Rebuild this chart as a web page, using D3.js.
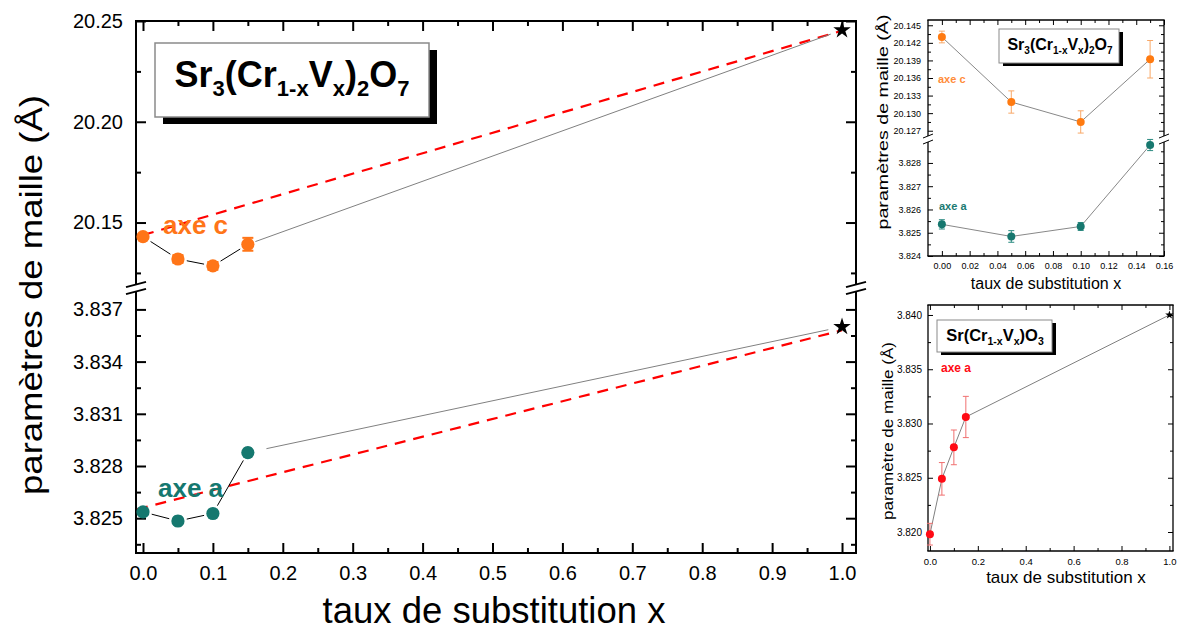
<!DOCTYPE html>
<html><head><meta charset="utf-8">
<script src="https://cdn.jsdelivr.net/npm/d3@7"></script>
<style>body{margin:0;background:#fff}svg{display:block;font-family:"Liberation Sans",Arial,sans-serif}</style>
</head><body><svg id="c" width="1180" height="632"></svg>
<script>
// ---------------- data ----------------
const xSub = [0, 0.05, 0.10, 0.15];
const axeC = [20.1430, 20.1319, 20.1285, 20.1392];
const axeCErr = [0.0010, 0.0019, 0.0019, 0.0032];
const axeA = [3.82536, 3.82484, 3.82527, 3.82877];
const axeAErr = [0.00020, 0.00025, 0.00017, 0.00024];
const starX = 1.0;
const starC = 20.2455;
const starA = 3.8360;
const vegardX = [0, 1];
const vegardC = [20.1438, 20.2452];
const vegardA = [3.8256, 3.8358];
const srOX = [0, 0.05, 0.10, 0.15];
const srOA = [3.8198, 3.8249, 3.8278, 3.8306];
const srOErr = [0.0010, 0.0015, 0.0016, 0.0019];
const srOStar = 3.8400;

const mainXMajor = [0,0.1,0.2,0.3,0.4,0.5,0.6,0.7,0.8,0.9,1.0];
const mainXMinor = [0.05,0.15,0.25,0.35,0.45,0.55,0.65,0.75,0.85,0.95];
const mainCMajor = [20.15, 20.20, 20.25];
const mainCMinor = [20.125, 20.175, 20.225];
const mainAMajor = [3.825, 3.828, 3.831, 3.834, 3.837];
const mainAMinor = [3.8235, 3.8265, 3.8295, 3.8325, 3.8355];
const inXMajor = [0,0.02,0.04,0.06,0.08,0.10,0.12,0.14,0.16];
const inXMinor = [0.01,0.03,0.05,0.07,0.09,0.11,0.13,0.15];
const inCMajor = [20.127,20.130,20.133,20.136,20.139,20.142,20.145];
const inCMinor = [20.1285,20.1315,20.1345,20.1375,20.1405,20.1435];
const inAMajor = [3.824,3.825,3.826,3.827,3.828];
const inAMinor = [3.8245,3.8255,3.8265,3.8275,3.8285];
const inBXMajor = [0,0.2,0.4,0.6,0.8,1.0];
const inBXMinor = [0.1,0.3,0.5,0.7,0.9];
const inBYMajor = [3.820,3.825,3.830,3.835,3.840];
const inBYMinor = [3.8225,3.8275,3.8325,3.8375];

// ---------------- helpers ----------------
const svg = d3.select("#c");
const ORANGE = "#ff7518", TEAL = "#15786f", RED = "#ff0000";

function line(g, x1, y1, x2, y2, stroke, sw, dash) {
  const l = g.append("line").attr("x1", x1).attr("y1", y1).attr("x2", x2).attr("y2", y2)
    .attr("stroke", stroke).attr("stroke-width", sw);
  if (dash) l.attr("stroke-dasharray", dash);
  return l;
}
function frame(g, L, R, T, B, sw, brk) {
  line(g, L, T, R, T, "#000", sw).attr("stroke-linecap", "square");
  line(g, L, B, R, B, "#000", sw).attr("stroke-linecap", "square");
  [L, R].forEach(X => {
    if (brk) {
      line(g, X, T, X, brk.a, "#000", sw);
      line(g, X, brk.b, X, B, "#000", sw);
      [brk.a, brk.b].forEach(yy => line(g, X - brk.w, yy + brk.h, X + brk.w, yy - brk.h, "#000", brk.sw));
    } else line(g, X, T, X, B, "#000", sw);
  });
}
function axis(g, gen, scale, vals, size, fmt, pad, fs, sw, tx, ty) {
  const a = gen(scale).tickValues(vals).tickSizeInner(-size).tickSizeOuter(0).tickPadding(pad)
    .tickFormat(fmt ? d3.format(fmt) : () => "");
  const ag = g.append("g").attr("transform", `translate(${tx},${ty})`).call(a);
  ag.select(".domain").remove();
  ag.attr("font-family", null).attr("font-size", fs);
  ag.selectAll("line").attr("stroke", "#000").attr("stroke-width", sw);
  ag.selectAll("text").attr("fill", "#000");
  return ag;
}
function gapLine(g, p1, p2, g1, g2, stroke, sw) {
  const dx = p2[0] - p1[0], dy = p2[1] - p1[1], d = Math.hypot(dx, dy);
  const ux = dx / d, uy = dy / d;
  line(g, p1[0] + ux * g1, p1[1] + uy * g1, p2[0] - ux * g2, p2[1] - uy * g2, stroke, sw);
}
function errBar(g, x, y0, y1, cw, stroke, sw) {
  line(g, x, y0, x, y1, stroke, sw);
  line(g, x - cw, y0, x + cw, y0, stroke, sw);
  line(g, x - cw, y1, x + cw, y1, stroke, sw);
}
function formula(g, cx, by, fs, sfs, dy, parts) {
  const t = g.append("text").attr("x", cx).attr("y", by).attr("text-anchor", "middle")
    .attr("font-weight", "bold").attr("font-size", fs).attr("fill", "#000");
  let low = false;
  parts.forEach(([s, sub]) => {
    const ts = t.append("tspan").text(s);
    if (sub) { ts.attr("font-size", sfs); if (!low) { ts.attr("dy", dy); low = true; } }
    else if (low) { ts.attr("dy", -dy); low = false; }
  });
}
function titleBox(g, x, y, w, h, off, sw) {
  g.append("rect").attr("x", x + off[0]).attr("y", y + off[1]).attr("width", w).attr("height", h).attr("fill", "#000");
  g.append("rect").attr("x", x).attr("y", y).attr("width", w).attr("height", h)
    .attr("fill", "#fff").attr("stroke", "#8a8a8a").attr("stroke-width", sw);
}
function rotTitle(g, x, cy, fs, len, txt) {
  g.append("text").attr("transform", `translate(${x},${cy}) rotate(-90)`).attr("text-anchor", "middle")
    .attr("font-size", fs).attr("fill", "#000").attr("textLength", len).attr("lengthAdjust", "spacingAndGlyphs").text(txt);
}
const star = (size) => d3.symbol(d3.symbolStar, size)();

// ---------------- main chart ----------------
{
  const g = svg.append("g");
  const L = 136, R = 856, T = 21, B = 553;
  const x = d3.scaleLinear().domain([-0.01, 1.02]).range([L, R]);
  const yC = d3.scaleLinear().domain([20.1195, 20.25]).range([284, T]);
  const yA = d3.scaleLinear().domain([3.823, 3.838]).range([B, 292]);

  frame(g, L, R, T, B, 2, {a: 284.5, b: 291.5, w: 10, h: 2.6, sw: 2});
  axis(g, d3.axisBottom, x, mainXMajor, 10, ".1f", 13, 20, 2, 0, B);
  axis(g, d3.axisBottom, x, mainXMinor, 5, null, 0, 20, 2, 0, B);
  axis(g, d3.axisTop, x, mainXMajor, 10, null, 0, 20, 2, 0, T);
  axis(g, d3.axisTop, x, mainXMinor, 5, null, 0, 20, 2, 0, T);
  [[yC, mainCMajor, mainCMinor, ".2f"], [yA, mainAMajor, mainAMinor, ".3f"]].forEach(([s, maj, min, f]) => {
    axis(g, d3.axisLeft, s, maj, 10, f, 13, 20, 2, L, 0);
    axis(g, d3.axisLeft, s, min, 5, null, 0, 20, 2, L, 0);
    axis(g, d3.axisRight, s, maj, 10, null, 0, 20, 2, R, 0);
    axis(g, d3.axisRight, s, min, 5, null, 0, 20, 2, R, 0);
  });

  // Vegard dashed lines
  line(g, x(vegardX[0]), yC(vegardC[0]), x(vegardX[1]), yC(vegardC[1]), RED, 2.2, "11,8");
  line(g, x(vegardX[0]) - 6, yA(vegardA[0]) + 1.5, x(vegardX[1]), yA(vegardA[1]), RED, 2.2, "11,8");

  // connecting lines
  const pc = xSub.map((v, i) => [x(v), yC(axeC[i])]);
  const pa = xSub.map((v, i) => [x(v), yA(axeA[i])]);
  for (let i = 0; i < 3; i++) { gapLine(g, pc[i], pc[i+1], 9, 9, "#000", 1); gapLine(g, pa[i], pa[i+1], 9, 9, "#000", 1); }
  gapLine(g, pc[3], [x(starX), yC(starC)], 8, 12, "#808080", 1);
  gapLine(g, pa[3], [x(starX), yA(starA)], 19, 14, "#808080", 1);

  // error bars + markers
  xSub.forEach((v, i) => {
    errBar(g, x(v), yC(axeC[i] - axeCErr[i]), yC(axeC[i] + axeCErr[i]), 5.5, ORANGE, 2);
    errBar(g, x(v), yA(axeA[i] - axeAErr[i]), yA(axeA[i] + axeAErr[i]), 4, TEAL, 2);
  });
  g.selectAll(".mc").data(xSub).join("circle").attr("cx", d => x(d)).attr("cy", (d, i) => yC(axeC[i])).attr("r", 6.6).attr("fill", ORANGE);
  g.selectAll(".ma").data(xSub).join("circle").attr("cx", d => x(d)).attr("cy", (d, i) => yA(axeA[i])).attr("r", 6.6).attr("fill", TEAL);
  g.append("path").attr("d", star(95)).attr("transform", `translate(${x(starX)},${yC(starC)})`).attr("fill", "#000");
  g.append("path").attr("d", star(95)).attr("transform", `translate(${x(starX)},${yA(starA)})`).attr("fill", "#000");

  g.append("text").attr("x", 163).attr("y", 234).attr("font-size", 26).attr("font-weight", "bold").attr("fill", ORANGE).text("axe c");
  g.append("text").attr("x", 158).attr("y", 497).attr("font-size", 26).attr("font-weight", "bold").attr("fill", TEAL).text("axe a");

  titleBox(g, 155, 43, 274, 74, [8, 7], 1.5);
  formula(g, 292, 87, 36, 22, 9, [["Sr"],["3",1],["(Cr"],["1-x",1],["V"],["x",1],[")"],["2",1],["O"],["7",1]]);

  g.append("text").attr("x", 494).attr("y", 623).attr("text-anchor", "middle").attr("font-size", 36.5).attr("fill", "#000").text("taux de substitution x");
  rotTitle(g, 41.5, 295, 31, 400, "paramètres de maille (Å)");
}

// ---------------- inset top ----------------
{
  const g = svg.append("g");
  const L = 928, R = 1164, T = 20, B = 256;
  const x = d3.scaleLinear().domain([-0.01, 0.16]).range([L, R]);
  const yC = d3.scaleLinear().domain([20.1261, 20.1459]).range([136, T]);
  const yA = d3.scaleLinear().domain([3.824, 3.8289]).range([B, 142]);
  frame(g, L, R, T, B, 1.3, {a: 136, b: 142, w: 5, h: 2, sw: 1});
  axis(g, d3.axisBottom, x, inXMajor, 5, ".2f", 7, 9, 1, 0, B);
  axis(g, d3.axisBottom, x, inXMinor, 3, null, 0, 9, 1, 0, B);
  axis(g, d3.axisTop, x, inXMajor, 5, null, 0, 9, 1, 0, T);
  axis(g, d3.axisTop, x, inXMinor, 3, null, 0, 9, 1, 0, T);
  [[yC, inCMajor, inCMinor], [yA, inAMajor, inAMinor]].forEach(([s, maj, min]) => {
    axis(g, d3.axisLeft, s, maj, 5, ".3f", 7, 9, 1, L, 0);
    axis(g, d3.axisLeft, s, min, 3, null, 0, 9, 1, L, 0);
    axis(g, d3.axisRight, s, maj, 5, null, 0, 9, 1, R, 0);
    axis(g, d3.axisRight, s, min, 3, null, 0, 9, 1, R, 0);
  });
  const lc = d3.line().x(d => x(d[0])).y(d => yC(d[1]));
  const la = d3.line().x(d => x(d[0])).y(d => yA(d[1]));
  g.append("path").attr("d", lc(xSub.map((v, i) => [v, axeC[i]]))).attr("fill", "none").attr("stroke", "#888").attr("stroke-width", 1);
  g.append("path").attr("d", la(xSub.map((v, i) => [v, axeA[i]]))).attr("fill", "none").attr("stroke", "#888").attr("stroke-width", 1);
  xSub.forEach((v, i) => {
    errBar(g, x(v), yC(axeC[i] - axeCErr[i]), yC(axeC[i] + axeCErr[i]), 3, "#f8a868", 1);
    errBar(g, x(v), yA(axeA[i] - axeAErr[i]), yA(axeA[i] + axeAErr[i]), 3, "#2a8a80", 1);
  });
  g.selectAll(".mc").data(xSub).join("circle").attr("cx", d => x(d)).attr("cy", (d, i) => yC(axeC[i])).attr("r", 4).attr("fill", "#ff7a10");
  g.selectAll(".ma").data(xSub).join("circle").attr("cx", d => x(d)).attr("cy", (d, i) => yA(axeA[i])).attr("r", 4).attr("fill", "#17786f");
  g.append("text").attr("x", 938).attr("y", 83).attr("font-size", 11).attr("font-weight", "bold").attr("fill", "#ff8c3a").text("axe c");
  g.append("text").attr("x", 939).attr("y", 210).attr("font-size", 11).attr("font-weight", "bold").attr("fill", "#1a7a72").text("axe a");
  titleBox(g, 999, 29, 120, 34, [4, 3], 1);
  formula(g, 1060, 50, 16, 10, 4, [["Sr"],["3",1],["(Cr"],["1-x",1],["V"],["x",1],[")"],["2",1],["O"],["7",1]]);
  g.append("text").attr("x", 1046).attr("y", 289).attr("text-anchor", "middle").attr("font-size", 16).attr("fill", "#000").text("taux de substitution x");
  rotTitle(g, 888, 122, 14, 215, "paramètres de maille (Å)");
}

// ---------------- inset bottom ----------------
{
  const g = svg.append("g");
  const L = 928, R = 1173, T = 305, B = 551;
  const x = d3.scaleLinear().domain([-0.008, 1.015]).range([L, R]);
  const y = d3.scaleLinear().domain([3.81825, 3.84092]).range([B, T]);
  frame(g, L, R, T, B, 1.3, null);
  axis(g, d3.axisBottom, x, inBXMajor, 5, ".1f", 7, 9.5, 1, 0, B);
  axis(g, d3.axisBottom, x, inBXMinor, 3, null, 0, 9.5, 1, 0, B);
  axis(g, d3.axisTop, x, inBXMajor, 5, null, 0, 9.5, 1, 0, T);
  axis(g, d3.axisTop, x, inBXMinor, 3, null, 0, 9.5, 1, 0, T);
  axis(g, d3.axisLeft, y, inBYMajor, 5, ".3f", 6, 10, 1, L, 0);
  axis(g, d3.axisLeft, y, inBYMinor, 3, null, 0, 10, 1, L, 0);
  axis(g, d3.axisRight, y, inBYMajor, 5, null, 0, 10, 1, R, 0);
  axis(g, d3.axisRight, y, inBYMinor, 3, null, 0, 10, 1, R, 0);
  const pts = srOX.map((v, i) => [v, srOA[i]]).concat([[starX, srOStar]]);
  g.append("path").attr("d", d3.line().x(d => x(d[0])).y(d => y(d[1]))(pts)).attr("fill", "none").attr("stroke", "#808080").attr("stroke-width", 1);
  srOX.forEach((v, i) => errBar(g, x(v), y(srOA[i] - srOErr[i]), y(srOA[i] + srOErr[i]), 3, "#f07070", 1));
  g.selectAll(".mr").data(srOX).join("circle").attr("cx", d => x(d)).attr("cy", (d, i) => y(srOA[i])).attr("r", 4).attr("fill", "#ff0a14");
  g.append("path").attr("d", star(22)).attr("transform", `translate(${x(starX)},${y(srOStar)})`).attr("fill", "#000");
  g.append("text").attr("x", 941).attr("y", 372).attr("font-size", 12).attr("font-weight", "bold").attr("fill", "#ff0a14").text("axe a");
  titleBox(g, 937, 320, 115, 32, [4, 3], 1);
  formula(g, 995, 341, 16.5, 10.5, 4, [["Sr(Cr"],["1-x",1],["V"],["x",1],[")O"],["3",1]]);
  g.append("text").attr("x", 1066).attr("y", 583).attr("text-anchor", "middle").attr("font-size", 17).attr("fill", "#000").text("taux de substitution x");
  rotTitle(g, 893, 431, 15, 178, "paramètre de maille (Å)");
}
</script></body></html>
